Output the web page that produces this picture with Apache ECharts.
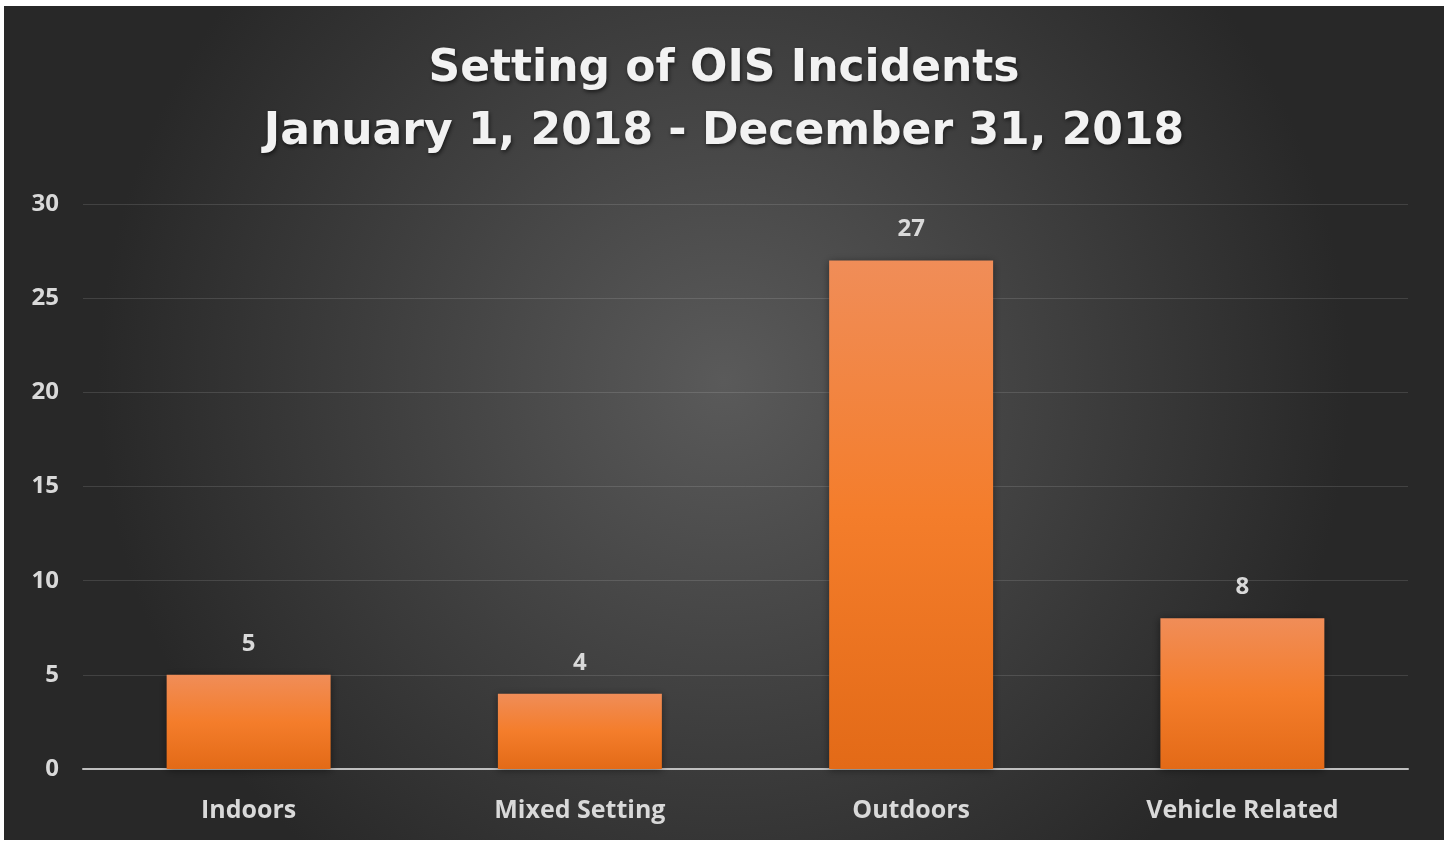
<!DOCTYPE html>
<html>
<head>
<meta charset="utf-8">
<script src="https://cdn.jsdelivr.net/npm/echarts@6/dist/echarts.min.js"></script>
<style>
  html, body { margin: 0; padding: 0; background: #fff; }
  #main { position: absolute; left: 4px; top: 6px; width: 1440px; height: 834px; }
</style>
</head>
<body>
<div id="main"></div>
<script>
const categories = ['Indoors', 'Mixed Setting', 'Outdoors', 'Vehicle Related']
const incidents = [5, 4, 27, 8]
const titleLines = ['Setting of OIS Incidents', 'January 1, 2018 - December 31, 2018']

const chart = echarts.init(document.getElementById('main'))

chart.setOption({
  animation: false,
  backgroundColor: {
    type: 'radial',
    x: 0.5, y: 0.45, r: 0.75,
    colorStops: [
      { offset: 0, color: '#5a5a5a' },
      { offset: 1, color: '#282828' }
    ]
  },
  title: {
    text: titleLines.join('\n'),
    left: 'center',
    top: 27,
    textStyle: {
      color: '#f2f2f2',
      fontFamily: 'DejaVu Sans',
      fontWeight: 'bold',
      fontSize: 44,
      lineHeight: 63,
      textShadowColor: 'rgba(0,0,0,0.6)',
      textShadowBlur: 4,
      textShadowOffsetX: 1,
      textShadowOffsetY: 2
    }
  },
  grid: { left: 79, right: 36, top: 198, bottom: 71 },
  xAxis: {
    type: 'category',
    data: categories,
    axisLine: { lineStyle: { color: '#bfbfbf', width: 2 } },
    axisTick: { show: false },
    axisLabel: {
      color: '#d9d9d9',
      fontFamily: 'Open Sans',
      fontWeight: 'bold',
      fontSize: 25,
      margin: 29
    }
  },
  yAxis: {
    type: 'value',
    min: 0,
    max: 30,
    interval: 5,
    axisLine: { show: false },
    axisTick: { show: false },
    axisLabel: {
      color: '#d9d9d9',
      fontFamily: 'Open Sans',
      fontWeight: 'bold',
      fontSize: 24,
      margin: 24
    },
    splitLine: { lineStyle: { color: 'rgba(255,255,255,0.12)', width: 1 } }
  },
  series: [{
    type: 'bar',
    data: incidents,
    barWidth: '49.5%',
    itemStyle: {
      color: {
        type: 'linear', x: 0, y: 0, x2: 0, y2: 1,
        colorStops: [
          { offset: 0, color: '#f08d58' },
          { offset: 0.5, color: '#f47d2b' },
          { offset: 1, color: '#e36a17' }
        ]
      },
      shadowColor: 'rgba(0,0,0,0.45)',
      shadowBlur: 8,
      shadowOffsetY: 1
    },
    label: {
      show: true,
      position: 'top',
      distance: 19,
      color: '#d9d9d9',
      fontFamily: 'Open Sans',
      fontWeight: 'bold',
      fontSize: 24
    }
  }]
})
</script>
</body>
</html>
